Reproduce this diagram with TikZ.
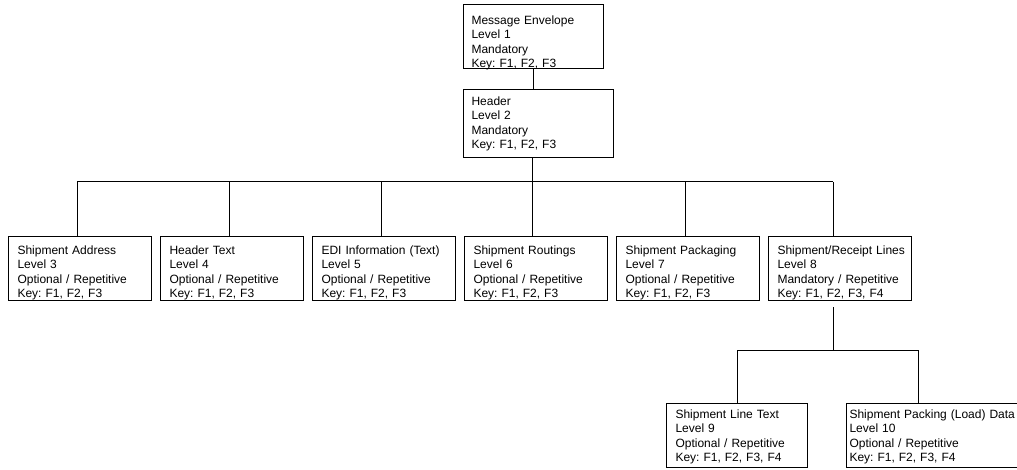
\documentclass[tikz,border=0pt]{standalone}
\usepackage{fontspec}
\setmainfont{Liberation Sans}
\usetikzlibrary{positioning}
\frenchspacing

\begin{document}
\begin{tikzpicture}[
    node distance=6pt,
    level/.style={rectangle, draw, line width=0.75pt, inner xsep=6.75pt, inner ysep=0pt, text width=93.75pt, align=left, font=\fontsize{9}{10.7}\selectfont, text height=13.5pt, text depth=34.5pt},
    sublevel/.style={level, text width=92.25pt, text height=11.25pt, text depth=36.75pt},
    link/.style={line width=0.75pt}
]
\useasboundingbox (0,0) rectangle (762.75pt,-352.5pt);

% Nodes
\node (me) [level, anchor=north west, text width=93pt, inner xsep=6pt, text height=15pt, text depth=33pt] at (347.25pt,-3pt) {Message Envelope\\Level 1\\Mandatory\\Key: F1, F2, F3};
\node (hdr) [level, below=15pt of me.south west, anchor=north west, text width=100.5pt, inner xsep=6pt, text height=12pt, text depth=39pt] {Header\\Level 2\\Mandatory\\Key: F1, F2, F3};

\node (b3) [level, anchor=north west] at (6pt,-177pt) {Shipment Address\\Level 3\\Optional / Repetitive\\Key: F1, F2, F3};
\node (b4) [level, right=of b3] {Header Text\\Level 4\\Optional / Repetitive\\Key: F1, F2, F3};
\node (b5) [level, right=of b4] {EDI Information (Text)\\Level 5\\Optional / Repetitive\\Key: F1, F2, F3};
\node (b6) [level, right=of b5] {Shipment Routings\\Level 6\\Optional / Repetitive\\Key: F1, F2, F3};
\node (b7) [level, right=of b6] {Shipment Packaging\\Level 7\\Optional / Repetitive\\Key: F1, F2, F3};
\node (b8) [level, right=of b7] {\mbox{Shipment/Receipt Lines}\\Level 8\\Mandatory / Repetitive\\Key: F1, F2, F3, F4};

\node (b9) [sublevel, anchor=north west] at (499.5pt,-302.25pt) {Shipment Line Text\\Level 9\\Optional / Repetitive\\Key: F1, F2, F3, F4};
\node (b10) [sublevel, right=28.5pt of b9, text width=160pt, inner xsep=2.25pt] {Shipment Packing (Load) Data\\Level 10\\Optional / Repetitive\\Key: F1, F2, F3, F4};

% Lines
\coordinate (bus) at (399pt,-136.5pt);
\coordinate (sub) at (0,-262.5pt);
\draw [link] (me.south) -- (me.south |- hdr.north);
\draw [link] (hdr.south -| bus) -- (bus);
\draw [link] ([xshift=-2.25pt]b3.north |- bus) -- ([xshift=-4.9pt]b8.north |- bus);
\foreach \n in {b3,b4,b5,b7}
    \draw [link] ([xshift=-2.25pt]\n.north |- bus) -- ([xshift=-2.25pt]\n.north);
\draw [link] (bus) -- (bus |- b6.north);
\draw [link] ([xshift=-4.9pt]b8.north |- bus) -- ([xshift=-4.9pt]b8.north);

\draw [link] ([xshift=-4.9pt,yshift=-4.5pt]b8.south) -- ([xshift=-4.9pt]b8.south |- sub);
\draw [link] (b9.north |- sub) -- ([xshift=54pt]b10.north west |- sub);
\draw [link] (b9.north |- sub) -- (b9.north);
\draw [link] ([xshift=54pt]b10.north west |- sub) -- ([xshift=54pt]b10.north west);

\end{tikzpicture}
\end{document}
